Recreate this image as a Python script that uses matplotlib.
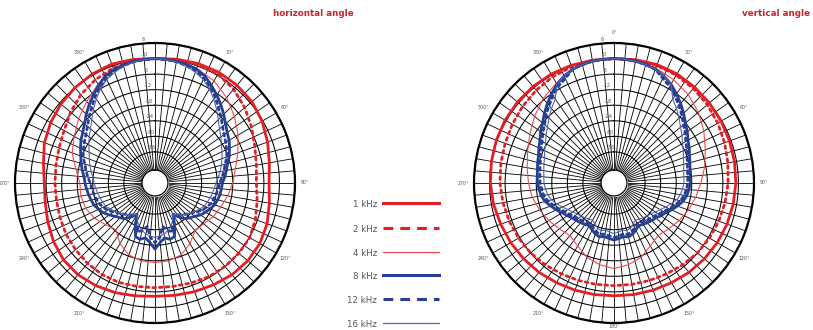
import numpy as np
import matplotlib
matplotlib.use("Agg")
import matplotlib.pyplot as plt

# ---------------------------------------------------------------------------
# Polar response data (dB, relative to on-axis), angle in degrees clockwise
# ---------------------------------------------------------------------------
angles_coarse = np.arange(0, 360, 10)
angles_fine = np.arange(0, 360, 5)

# horizontal plane
h_1k = [0, 0.5, 1, 1.3, 1.2, 0.8, -0.3, -1.8, -3.2, -4, -3.2, -2, -1.3, -1.3, -1.8, -2.7,
        -3.4, -4, -4.3, -3.8, -3, -2.3, -1.8, -1.9, -2.8, -4, -5, -5.3, -4.3, -2.6, -1.5,
        -0.6, 0, 0.5, 0.8, 0.4]
h_2k = [0, 0.2, 0.5, 0.5, -0.8, -2.8, -5, -7, -8.3, -8.9, -8, -6.8, -5.8, -5.8, -6, -6.3,
        -7, -7.5, -7.6, -7.5, -7.2, -7.2, -7.5, -8, -8.4, -9, -9.4, -9.4, -9.2, -8.6, -7.5,
        -5.5, -3.5, -2, -0.8, -0.2]
h_4k = [0, -0.3, -1, -2.5, -5, -8, -11, -14, -16.5, -18, -19.5, -21, -22, -23.5, -24, -21,
        -18.5, -17.5, -17.3, -17.5, -18.5, -21, -24.5, -23, -21, -19.5, -19, -19, -17, -14,
        -12, -9.5, -7, -4, -1.5, -0.4]
h_8k = [0, -0.1, -0.3, -0.7, -1.2, -2.5, -4.5, -6.5, -8.5, -10.5, -12.5, -14, -15, -16.3,
        -17.5, -19, -20, -21, -22, -22.3, -22.5, -23, -23.5, -24.5, -25.5, -26.5, -28, -29,
        -30, -32, -34, -30, -26, -25.5, -26.5, -25, -22.5, -25, -26.5, -25.5, -26, -30, -34,
        -32, -30, -29, -28, -26.5, -25, -24, -23, -22.5, -22, -21.5, -21, -20.5, -19.5, -18.5,
        -17.5, -16.3, -15, -14, -12.5, -10.5, -8.5, -6.5, -4.5, -2.5, -1.5, -0.8, -0.4, -0.1]
h_12k = [0, -0.2, -0.5, -1.2, -2, -3.5, -5.5, -7.5, -10, -12, -14, -15.5, -16.5, -17.5,
         -18.5, -20, -21, -22, -23, -23.5, -24, -24.5, -25, -26, -27, -28.5, -30, -31, -32,
         -33, -34, -31, -28, -29, -31, -27, -25, -27, -31, -29, -28, -31, -34, -33, -32, -31,
         -30, -28.5, -27, -26, -25, -24.5, -24, -23.5, -23, -22, -21, -20, -18.5, -17.5,
         -16.5, -15.5, -14, -12, -10, -7.5, -5.5, -3.5, -2, -1.2, -0.5, -0.2]
h_16k = [0, -0.2, -0.6, -1.4, -2.5, -4, -6, -8.5, -11, -13.5, -15.5, -17, -18.5, -19.5,
         -20.5, -21.5, -22.5, -23.5, -24.5, -25, -25.5, -26, -26.5, -27, -28, -29, -30,
         -31, -32, -33, -34, -32, -30, -29, -28, -27.5, -27, -27.5, -28, -29, -30, -32,
         -34, -33, -32, -31, -30, -29, -28, -27, -26.5, -26, -25.5, -25, -24.5, -24, -23,
         -22, -21, -20, -18.5, -17, -15.5, -13.5, -11, -8.5, -6, -4, -2.5, -1.4, -0.6, -0.2]

# vertical plane
v_1k = [0, 0.3, 0.6, 0.6, 0.3, 0, -0.3, -0.6, -0.8, -1, -1.3, -1.6, -2, -2.5, -3, -3.6,
        -4, -4.3, -4.5, -4.3, -4, -3.6, -3, -2.5, -2, -1.5, -0.8, -0.3, 0, 0.3, 0.5, 0.6,
        0.6, 0.5, 0.3, 0.1]
v_2k = [0, 0.1, 0.2, 0, -0.4, -1, -1.8, -2.6, -3.4, -4, -4.5, -5, -5.5, -6, -6.8, -7.5,
        -8, -8.3, -8.4, -8.3, -8, -7.5, -6.8, -6, -5.5, -5, -4.5, -4, -3.7, -3.3, -2.7,
        -2, -1.3, -0.7, -0.3, -0.1]
v_4k = [0, -0.2, -0.8, -2, -3.5, -5.5, -8, -10.5, -12.5, -14.5, -16, -17.5, -19, -20.5,
        -21.5, -20, -17.5, -16, -15, -16, -17.5, -20, -21.5, -20.5, -19, -17.5, -16, -15,
        -14, -12.5, -10.5, -8, -5.5, -3.5, -1.5, -0.4]
v_8k = [0, -0.1, -0.3, -0.7, -1.3, -2.5, -4, -6, -8, -10, -12, -13.5, -15, -16, -17,
        -17.7, -18.2, -18.5, -18.5, -19, -19.5, -20.5, -22, -23.5, -25, -26, -27, -27.5,
        -28, -28.5, -29, -28, -27, -26.5, -27, -26.5, -26, -26.5, -27, -26.5, -27, -28,
        -29, -28.5, -28, -27.5, -27, -26, -25, -23.5, -22, -20.5, -19.5, -19, -18.5,
        -18.3, -18, -17.5, -17, -16, -15, -13.5, -12, -10, -8, -6, -4, -2.5, -1.3, -0.7,
        -0.3, -0.1]
v_12k = [v - 1.0 if 4 < i < 68 else v for i, v in enumerate(v_8k)]
v_16k = [v - 2.5 if 6 < i < 66 else v for i, v in enumerate(v_8k)]

freq_labels = ["1 kHz", "2 kHz", "4 kHz", "8 kHz", "12 kHz", "16 kHz"]
ring_db = [6, 0, -6, -12, -18, -24, -30, -36]
angle_ticks = np.arange(0, 360, 30)

# ---------------------------------------------------------------------------
# styles
# ---------------------------------------------------------------------------
RED = "#e31e25"
RED_LIGHT = "#ef4a52"
BLUE = "#263f93"
BLUE_LIGHT = "#5066b3"
GREY_TXT = "#555555"
TITLE_RED = "#c5242f"

styles = [
    dict(color=RED, lw=2.0, ls="-"),
    dict(color=RED, lw=2.0, ls=(0, (1.0, 1.4))),
    dict(color=RED_LIGHT, lw=0.8, ls="-"),
    dict(color=BLUE, lw=2.0, ls="-"),
    dict(color=BLUE, lw=2.0, ls=(0, (1.0, 1.4))),
    dict(color=BLUE_LIGHT, lw=0.8, ls="-"),
]
legend_dash = (0, (3.2, 2.3))

R_MIN, R_MAX, R_HOLE = -48, 6, -43

W, H = 813, 330
fig = plt.figure(figsize=(W / 100, H / 100), dpi=100)


def closed(theta_deg, values):
    t = np.deg2rad(np.append(theta_deg, 360))
    v = np.append(values, values[0])
    return t, v


def polar_panel(cx, cy, radius_px, series, title, title_x, show_axis_ends):
    ax = fig.add_axes([(cx - radius_px) / W, (H - cy - radius_px) / H,
                       2 * radius_px / W, 2 * radius_px / H], projection="polar")
    ax.set_theta_zero_location("N")
    ax.set_theta_direction(-1)
    ax.set_ylim(R_MIN, R_MAX)
    ax.grid(False)
    ax.set_xticks([])
    ax.set_yticks([])
    ax.spines["polar"].set_linewidth(1.6)
    ax.spines["polar"].set_color("black")

    full = np.linspace(0, 2 * np.pi, 721)
    for r in ring_db[1:]:
        ax.plot(full, np.full_like(full, r), color="black", lw=0.75, zorder=1)
    for a in np.deg2rad(np.arange(0, 360, 5)):
        ax.plot([a, a], [R_HOLE, R_MAX], color="black", lw=0.6, zorder=1)
    # centre hole
    ax.fill_between(full, R_MIN, R_HOLE, color="white", zorder=2)
    ax.plot(full, np.full_like(full, R_HOLE), color="black", lw=0.9, zorder=2)

    # level labels along the 0 deg spoke
    for r in ring_db:
        ax.text(np.deg2rad(-4.5), r + 1.6, f"{r}", fontsize=3.6, color=GREY_TXT,
                ha="center", va="center", zorder=5)
    for a in angle_ticks:
        if a in (0, 180) and not show_axis_ends:
            continue
        rad = 7.3 if a == 180 else 10.0
        ax.text(np.deg2rad(a), rad, f"{a}°", fontsize=3.4, color=GREY_TXT,
                ha="center", va="center", clip_on=False)

    for (theta, vals), st in zip(series, styles):
        t, v = closed(theta, vals)
        ax.plot(t, v, color=st["color"], lw=st["lw"], ls=st["ls"], zorder=4,
                solid_joinstyle="round", dash_capstyle="round")

    fig.text(title_x / W, 1 - 14 / H, title, color=TITLE_RED, fontsize=6.3,
             fontweight="bold", ha="center", va="center")
    return ax


polar_panel(155, 183, 140,
            [(angles_coarse, h_1k), (angles_coarse, h_2k), (angles_coarse, h_4k),
             (angles_fine, h_8k), (angles_fine, h_12k), (angles_fine, h_16k)],
            "horizontal angle", 313, False)
polar_panel(614, 183, 140,
            [(angles_coarse, v_1k), (angles_coarse, v_2k), (angles_coarse, v_4k),
             (angles_fine, v_8k), (angles_fine, v_12k), (angles_fine, v_16k)],
            "vertical angle", 776, True)

# legend
lax = fig.add_axes([0, 0, 1, 1])
lax.set_xlim(0, W)
lax.set_ylim(H, 0)
lax.axis("off")
legend_y = [203, 228, 252, 275, 299, 323]
for label, y, st in zip(freq_labels, legend_y, styles):
    ls = legend_dash if st["ls"] != "-" else "-"
    lax.plot([383, 439], [y, y], color=st["color"], lw=st["lw"] * 1.1, ls=ls)
    lax.text(377, y + 1.5, label, fontsize=6.2, color=GREY_TXT, ha="right", va="center")

fig.savefig("out.png", dpi=100)
